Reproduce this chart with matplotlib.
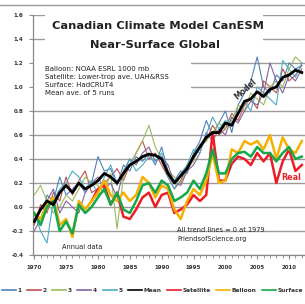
import numpy as np
import matplotlib
matplotlib.use("Agg")
import matplotlib.pyplot as plt
from matplotlib.lines import Line2D
from matplotlib.patches import Rectangle

# ---------------- DATA ----------------
years = list(range(1970, 2013))

run1 = [-0.05, -0.15, 0.10, 0.05, 0.25, 0.10, 0.15, 0.20, 0.12, 0.20,
        0.42, 0.30, 0.32, 0.18, 0.35, 0.30, 0.42, 0.38, 0.45, 0.35,
        0.50, 0.30, 0.22, 0.30, 0.28, 0.45, 0.55, 0.72, 0.60, 0.70,
        0.80, 0.62, 0.85, 0.95, 1.05, 1.25, 1.00, 0.95, 1.10, 1.05,
        1.20, 1.15, 1.18]
run2 = [-0.15, 0.02, -0.05, 0.12, 0.05, 0.25, 0.10, 0.22, 0.30, 0.12,
        0.15, 0.20, 0.25, 0.32, 0.22, 0.35, 0.45, 0.55, 0.40, 0.45,
        0.35, 0.25, 0.15, 0.22, 0.35, 0.40, 0.50, 0.55, 0.68, 0.60,
        0.65, 0.78, 0.72, 0.85, 0.90, 0.82, 1.05, 1.00, 0.95, 1.15,
        1.05, 1.10, 1.18]
run3 = [0.10, 0.18, 0.05, -0.05, 0.00, 0.10, 0.05, 0.15, 0.25, 0.20,
        0.18, 0.12, 0.28, -0.18, 0.25, 0.35, 0.45, 0.55, 0.68, 0.50,
        0.40, 0.30, 0.25, 0.20, 0.32, 0.38, 0.52, 0.55, 0.62, 0.70,
        0.65, 0.72, 0.85, 0.80, 0.95, 0.90, 0.85, 1.00, 1.05, 1.00,
        1.15, 1.25, 1.20]
run4 = [-0.20, -0.10, 0.05, 0.15, -0.05, 0.05, 0.00, -0.05, 0.12, 0.20,
        0.25, 0.15, 0.20, 0.08, 0.30, 0.40, 0.35, 0.45, 0.50, 0.38,
        0.42, 0.35, 0.20, 0.18, 0.30, 0.35, 0.45, 0.62, 0.55, 0.65,
        0.60, 0.75, 0.70, 0.80, 0.88, 0.85, 0.95, 1.20, 1.05, 0.95,
        1.10, 1.05, 1.15]
run5 = [-0.05, -0.20, -0.30, 0.05, 0.15, 0.20, 0.30, 0.25, 0.15, 0.22,
        0.10, 0.25, 0.35, 0.20, 0.28, 0.40, 0.30, 0.35, 0.42, 0.38,
        0.45, 0.25, 0.15, 0.28, 0.35, 0.48, 0.45, 0.60, 0.75, 0.65,
        0.72, 0.70, 0.78, 0.88, 0.80, 1.00, 0.95, 0.90, 0.85, 1.22,
        1.15, 1.08, 1.20]
mean = [-0.12, -0.02, 0.05, 0.02, 0.12, 0.18, 0.12, 0.20, 0.15, 0.18,
        0.22, 0.28, 0.25, 0.20, 0.28, 0.35, 0.38, 0.42, 0.44, 0.43,
        0.40, 0.28, 0.20, 0.26, 0.32, 0.42, 0.50, 0.58, 0.62, 0.62,
        0.70, 0.68, 0.78, 0.88, 0.90, 0.96, 0.92, 0.98, 1.00, 1.08,
        1.10, 1.14, 1.12]

sat_years = list(range(1979, 2013))
satellite = [0.05, 0.15, 0.18, 0.02, 0.12, -0.08, -0.10, -0.02, 0.08, 0.12,
             0.00, 0.10, 0.12, -0.05, -0.02, 0.02, 0.10, 0.05, 0.10, 0.62,
             0.22, 0.22, 0.36, 0.42, 0.40, 0.35, 0.45, 0.38, 0.45, 0.20,
             0.38, 0.48, 0.30, 0.35]
balloon = [-0.05, -0.10, 0.02, 0.08, -0.15, -0.10, -0.25, 0.05, -0.02, 0.05,
           0.12, 0.22, 0.10, 0.05, 0.12, 0.05, 0.10, 0.25, 0.20, 0.08,
           0.18, 0.15, -0.02, -0.10, 0.05, 0.15, 0.10, 0.22, 0.45, 0.20,
           0.22, 0.48, 0.45, 0.55, 0.52, 0.55, 0.48, 0.60, 0.40, 0.58,
           0.48, 0.45, 0.55]
surface = [-0.05, -0.15, 0.00, 0.05, -0.20, -0.12, -0.22, 0.02, -0.05, 0.00,
           0.08, 0.15, 0.02, 0.12, -0.02, -0.05, 0.05, 0.18, 0.20, 0.12,
           0.22, 0.18, 0.05, 0.08, 0.12, 0.22, 0.15, 0.28, 0.48, 0.28,
           0.28, 0.40, 0.45, 0.46, 0.42, 0.50, 0.45, 0.45, 0.38, 0.45,
           0.50, 0.40, 0.42]

run_labels = ["1", "2", "3", "4", "5"]
run_colors = ["#4F81BD", "#C0504D", "#9BBB59", "#8064A2", "#4BACC6"]

yticks = [-0.4, -0.2, 0.0, 0.2, 0.4, 0.6, 0.8, 1.0, 1.2, 1.4, 1.6]
xticks = [1970, 1975, 1980, 1985, 1990, 1995, 2000, 2005, 2010]

# ---------------- PLOT ----------------
fig = plt.figure(figsize=(3.05, 3.04), dpi=100)
ax = fig.add_axes([0.108, 0.161, 0.892, 0.79])

for vals, lab, col in zip([run1, run2, run3, run4, run5], run_labels, run_colors):
    ax.plot(years, vals, color=col, lw=0.8, label=lab, zorder=3)
ax.plot(years, mean, color="black", lw=2.0, label="Mean", zorder=5)
ax.plot(sat_years, satellite, color="#EE1C25", lw=1.8, label="Satellite", zorder=4)
ax.plot(years, balloon, color="#F7B000", lw=1.8, label="Balloon", zorder=4)
ax.plot(years, surface, color="#14A84A", lw=1.8, label="Surface", zorder=4)

ax.set_ylim(-0.4, 1.6)
ax.set_xlim(1969.8, 2012.5)
ax.set_yticks(yticks)
ax.set_yticklabels([f"{v:.1f}" for v in yticks], fontsize=4, fontweight="bold")
ax.set_xticks(xticks)
ax.set_xticklabels([str(y) for y in xticks], fontsize=4, fontweight="bold")
ax.set_xticks(years, minor=True)
ax.tick_params(axis="both", colors="#888888", labelcolor="#333333", length=3, width=0.8, pad=4)
ax.tick_params(axis="x", which="minor", colors="#888888", length=2, width=0.6)
ax.yaxis.grid(True, color="#9A9A9A", lw=1.0, zorder=0)
ax.set_axisbelow(True)
for s in ["top", "right"]:
    ax.spines[s].set_visible(False)
for s in ["left", "bottom"]:
    ax.spines[s].set_color("#888888")
    ax.spines[s].set_linewidth(0.9)

# white panels behind title and notes (hide gridlines like the original)
ax.add_patch(Rectangle((0.045, 0.84), 0.8, 0.17, transform=ax.transAxes,
                       facecolor="white", edgecolor="none", zorder=1, clip_on=False))
ax.add_patch(Rectangle((0.005, 0.635), 0.575, 0.19, transform=ax.transAxes,
                       facecolor="white", edgecolor="none", zorder=1))

ax.text(0.46, 0.955, "Canadian Climate Model CanESM", transform=ax.transAxes,
        ha="center", va="center", fontsize=8.2, fontweight="bold", color="#222222", zorder=6)
ax.text(0.45, 0.875, "Near-Surface Global", transform=ax.transAxes,
        ha="center", va="center", fontsize=8.2, fontweight="bold", color="#222222", zorder=6)
ax.text(0.045, 0.725,
        "Balloon: NOAA ESRL 1000 mb\nSatellite: Lower-trop ave. UAH&RSS\nSurface: HadCRUT4\nMean ave. of 5 runs",
        transform=ax.transAxes, ha="left", va="center", fontsize=5, color="#222222",
        linespacing=1.45, zorder=6)
ax.text(0.105, 0.035, "Annual data", transform=ax.transAxes, ha="left", va="center",
        fontsize=4.8, color="#222222", zorder=6)
ax.text(0.53, 0.085, "All trend lines = 0 at 1979\nFriendsofScience.org", transform=ax.transAxes,
        ha="left", va="center", fontsize=4.8, color="#222222", linespacing=1.5, zorder=6)
ax.text(2003.2, 0.98, "Model", rotation=42, ha="center", va="center", fontsize=5.5,
        fontweight="bold", color="#333333", zorder=7)
ax.text(2008.8, 0.25, "Real", ha="left", va="center", fontsize=5.8,
        fontweight="bold", color="#E8202A", zorder=7)

handles, labels = ax.get_legend_handles_labels()
leg = fig.legend(handles, labels, loc="center", bbox_to_anchor=(0.5, 0.045), ncol=9,
                 fontsize=4.2, frameon=False, handlelength=2.4, handletextpad=0.3,
                 columnspacing=0.9, borderaxespad=0)
for t in leg.get_texts():
    t.set_fontweight("bold")
    t.set_color("#333333")
for h in leg.legend_handles:
    h.set_linewidth(1.2)

fig.add_artist(Line2D([0, 1], [0.984, 0.984], transform=fig.transFigure, color="#999999", lw=1.0))

fig.savefig("out.png", dpi=100)
